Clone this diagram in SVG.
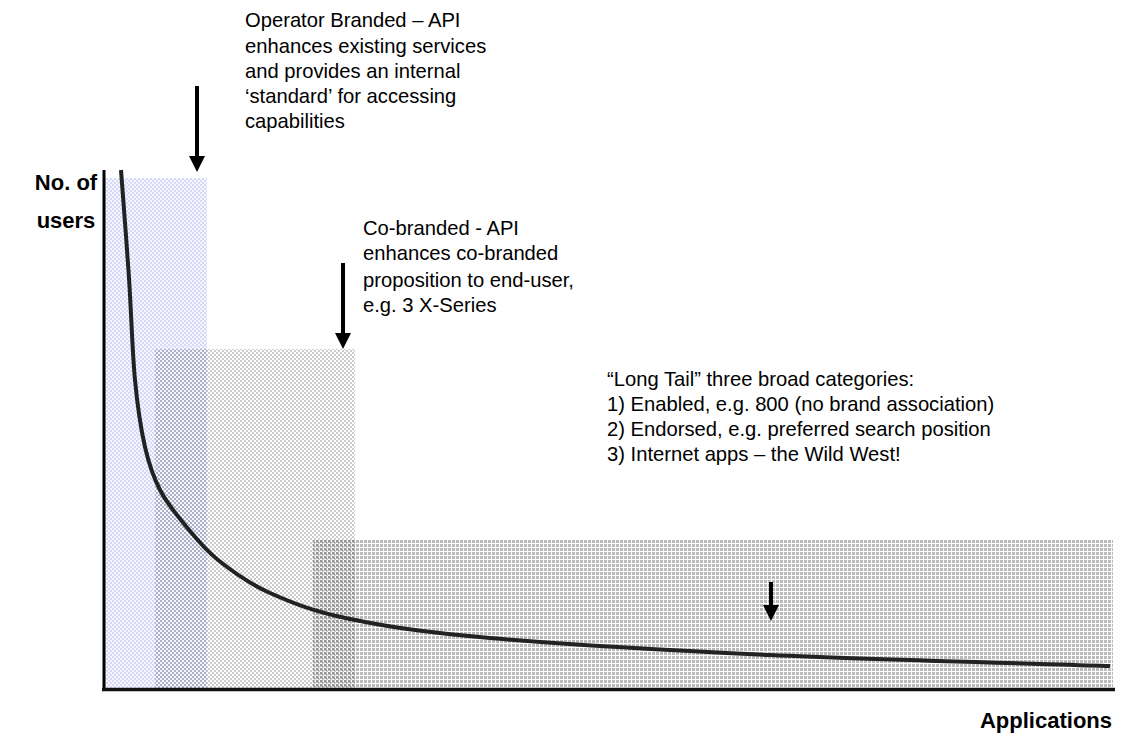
<svg xmlns="http://www.w3.org/2000/svg" width="1123" height="734" viewBox="0 0 1123 734">
<style>
  .t { font-family: "Liberation Sans", Arial, sans-serif; font-size: 20.2px; fill: #000; }
  .b { font-family: "Liberation Sans", Arial, sans-serif; font-size: 22px; font-weight: bold; fill: #000; }
  .arr { stroke: #000; stroke-width: 4; fill: none; }
  .head { fill: #000; }
</style>
<defs>
  <pattern id="pBlue" width="4" height="4" patternUnits="userSpaceOnUse">
    <rect width="4" height="4" fill="#f6f6ff"/>
    <rect x="0" y="0" width="2" height="2" fill="#d8d8f8"/>
    <rect x="2" y="2" width="2" height="2" fill="#d8d8f8"/>
  </pattern>
  <pattern id="pGrey" width="4" height="4" patternUnits="userSpaceOnUse">
    <rect x="0" y="0" width="2" height="2" fill="#000" fill-opacity="0.2"/>
    <rect x="2" y="2" width="2" height="2" fill="#000" fill-opacity="0.2"/>
  </pattern>
  <pattern id="pDark" width="4" height="4" patternUnits="userSpaceOnUse">
    <rect x="0" y="0" width="3" height="3" fill="#000" fill-opacity="0.27"/>
  </pattern>
</defs>

<g id="region-operator">
  <rect x="104" y="178" width="103" height="512" fill="url(#pBlue)"/>
</g>
<g id="region-cobranded">
  <rect x="155" y="349" width="200" height="341" fill="url(#pGrey)"/>
</g>
<g id="region-longtail">
  <rect x="313" y="540" width="800" height="150" fill="url(#pDark)"/>
</g>

<g id="axes">
  <line x1="104" y1="170" x2="104" y2="691" stroke="#000" stroke-width="3"/>
  <line x1="102" y1="689.5" x2="1115" y2="689.5" stroke="#111" stroke-width="3.5"/>
</g>

<g id="curve">
  <path fill="none" stroke="#222" stroke-width="4" stroke-linecap="butt"
    d="M121,170 C122.3,188 126.7,243 129,278 C131.3,313 132.3,351.8 135,380 C137.7,408.2 140.8,428.7 145,447 C149.2,465.3 153.3,477 160,490 C166.7,503 175.3,513.3 185,525 C194.7,536.7 203.8,548.7 218,560 C232.2,571.3 248,583.2 270,593 C292,602.8 313.3,611.5 350,619 C386.7,626.5 420,632 490,638 C560,644 666.7,650.3 770,655 C873.3,659.7 1053.3,664.2 1110,666"/>
</g>

<g id="connectors">
  <line class="arr" x1="197" y1="86" x2="197" y2="158"/>
  <polygon class="head" points="189,156 205,156 197,172"/>
  <line class="arr" x1="343" y1="263" x2="343" y2="335"/>
  <polygon class="head" points="335,333 351,333 343,349"/>
  <line class="arr" x1="771" y1="582" x2="771" y2="608"/>
  <polygon class="head" points="763,605 779,605 771,621"/>
</g>

<g id="label-operator">
  <text class="t" x="245" y="27">Operator Branded – API</text>
  <text class="t" x="245" y="53">enhances existing services</text>
  <text class="t" x="245" y="78">and provides an internal</text>
  <text class="t" x="245" y="103">‘standard’ for accessing</text>
  <text class="t" x="245" y="128">capabilities</text>
</g>
<g id="label-cobranded">
  <text class="t" x="363" y="235">Co-branded - API</text>
  <text class="t" x="363" y="260">enhances co-branded</text>
  <text class="t" x="363" y="287">proposition to end-user,</text>
  <text class="t" x="363" y="312">e.g. 3 X-Series</text>
</g>
<g id="label-longtail">
  <text class="t" x="607" y="386">“Long Tail” three broad categories:</text>
  <text class="t" x="607" y="411">1) Enabled, e.g. 800 (no brand association)</text>
  <text class="t" x="607" y="436">2) Endorsed, e.g. preferred search position</text>
  <text class="t" x="607" y="461">3) Internet apps – the Wild West!</text>
</g>
<g id="axis-labels">
  <text class="b" x="66" y="190" text-anchor="middle">No. of</text>
  <text class="b" x="66" y="228" text-anchor="middle">users</text>
  <text class="b" x="1112" y="728" text-anchor="end">Applications</text>
</g>
</svg>
